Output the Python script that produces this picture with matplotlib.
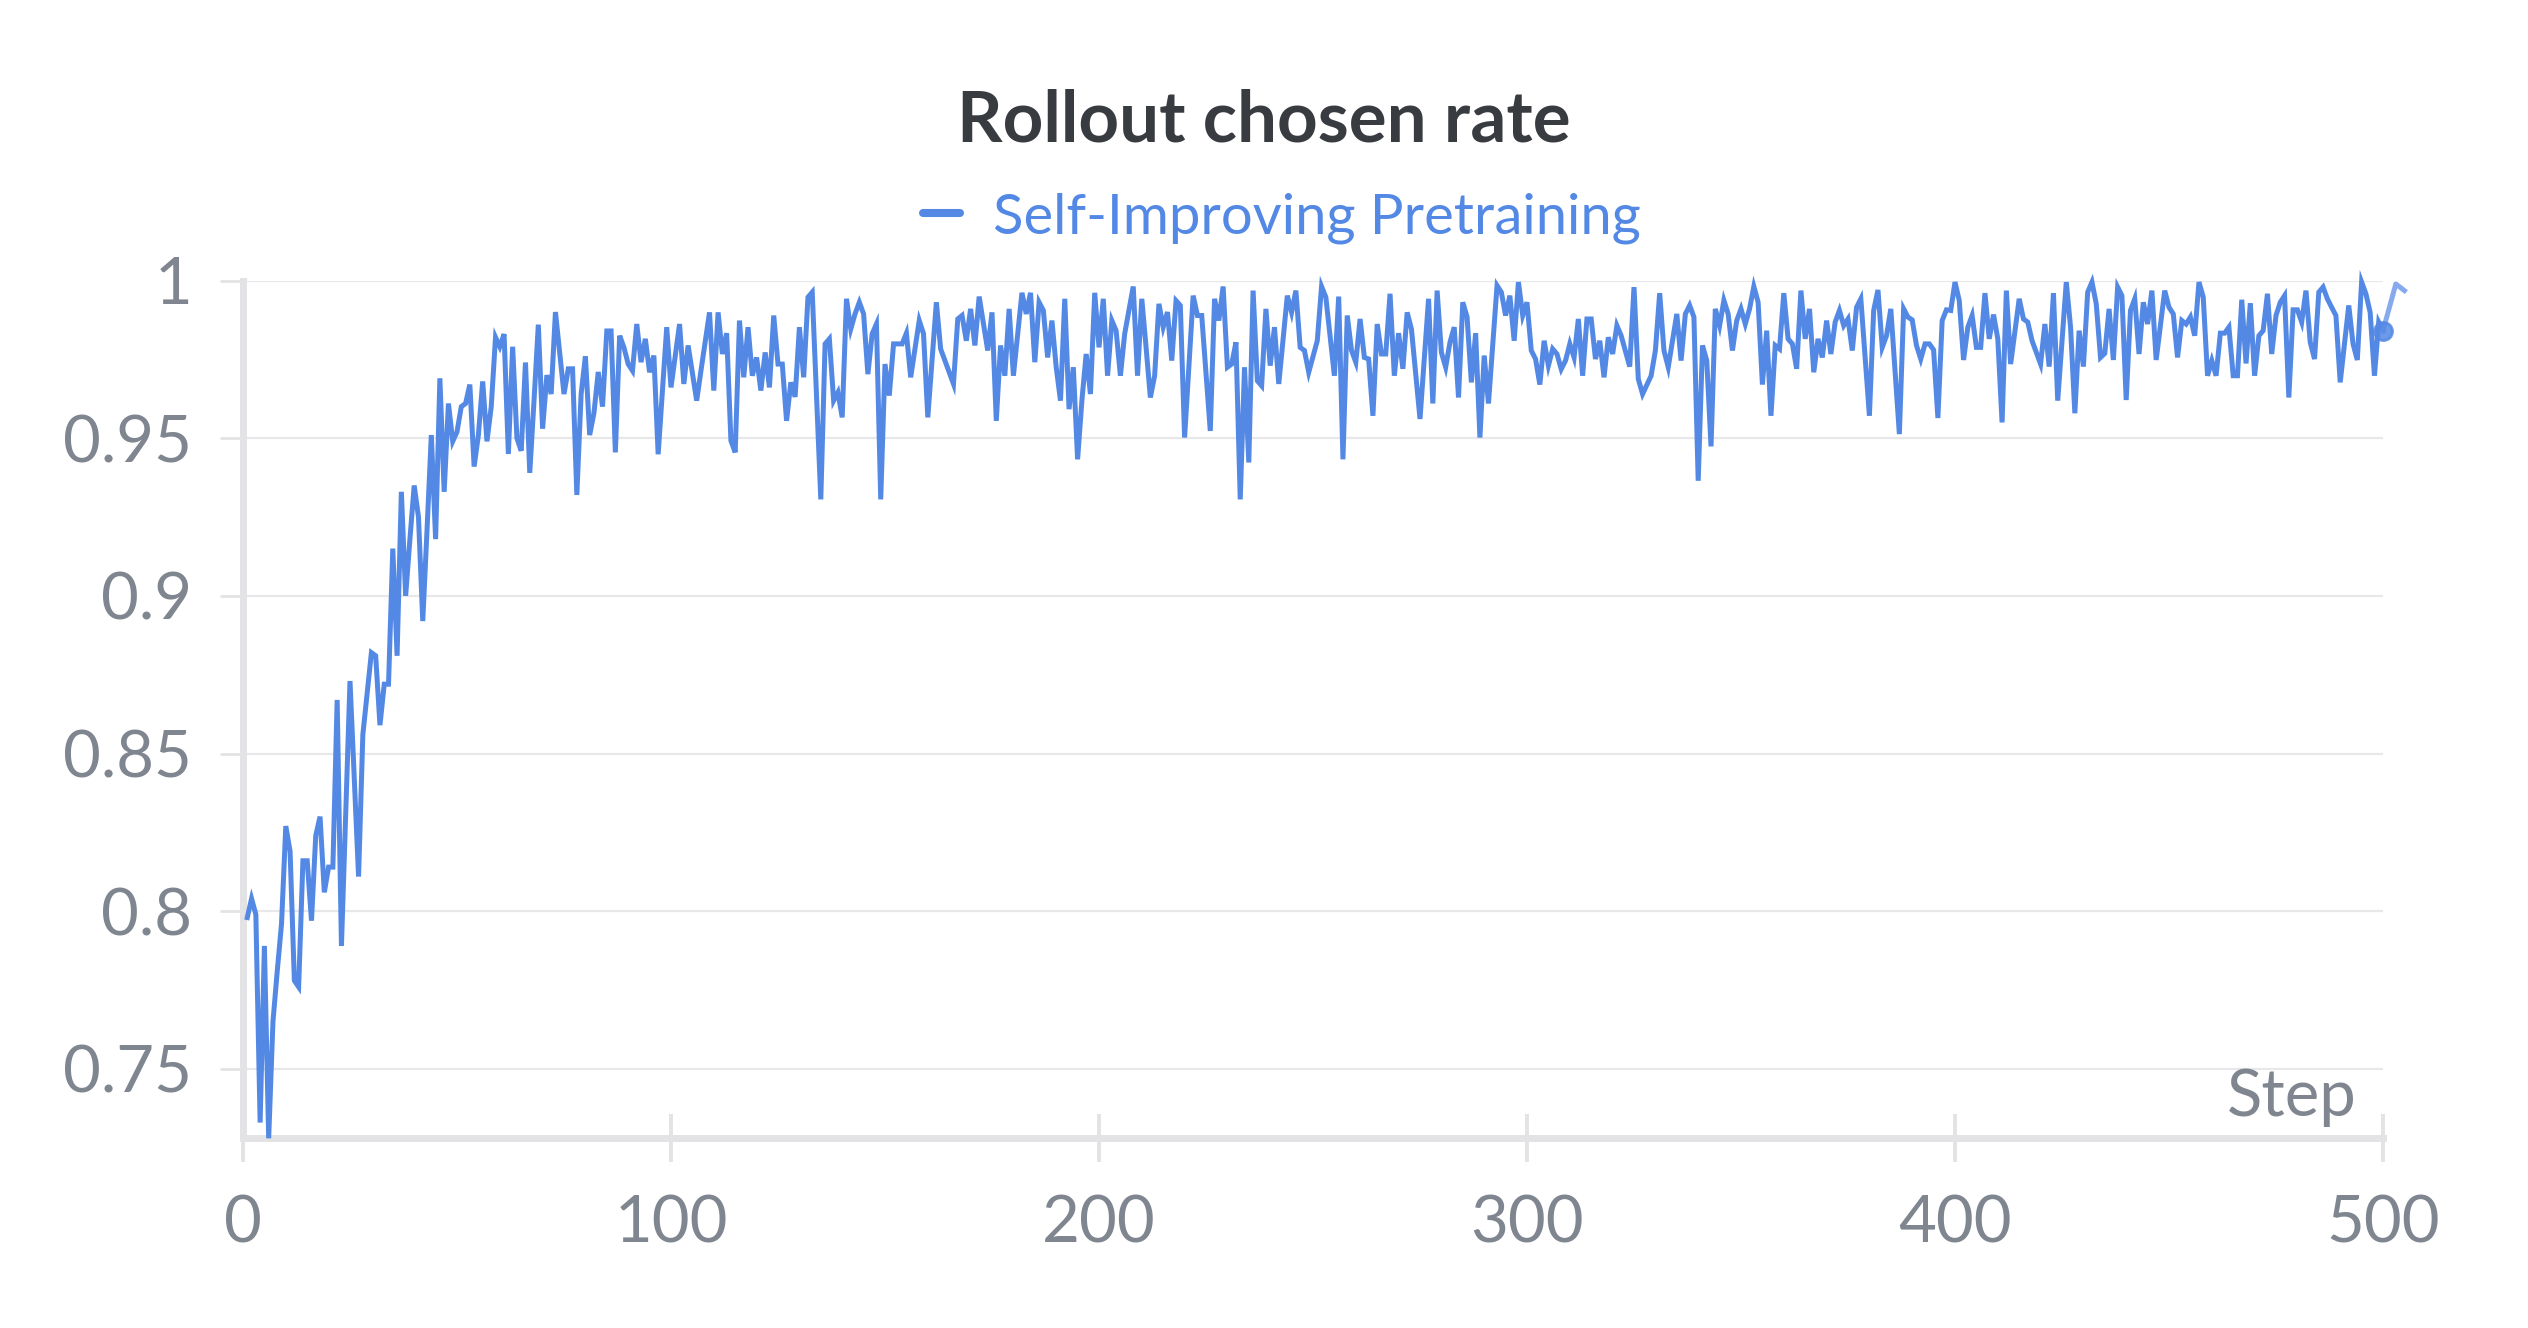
import matplotlib
matplotlib.use("Agg")
import matplotlib.pyplot as plt
from matplotlib.lines import Line2D

plt.rcParams['font.family'] = ['Lato', 'DejaVu Sans']

TITLE = "Rollout chosen rate"
SERIES = "Self-Improving Pretraining"
X_LABEL = "Step"
x_ticks = [0, 100, 200, 300, 400, 500]
x_tick_labels = ["0", "100", "200", "300", "400", "500"]
y_ticks = [0.75, 0.8, 0.85, 0.9, 0.95, 1.0]
y_tick_labels = ["0.75", "0.8", "0.85", "0.9", "0.95", "1"]

steps_early = list(range(1, 87))
rate_early = [
    0.798, 0.804, 0.799, 0.733, 0.789, 0.728, 0.765, 0.781, 0.796, 0.827,
    0.819, 0.778, 0.776, 0.816, 0.816, 0.797, 0.824, 0.830, 0.806, 0.814,
    0.814, 0.867, 0.789, 0.831, 0.873, 0.842, 0.811, 0.856, 0.869, 0.882,
    0.881, 0.859, 0.872, 0.872, 0.915, 0.881, 0.933, 0.900, 0.918, 0.935,
    0.925, 0.892, 0.921, 0.951, 0.918, 0.969, 0.933, 0.961, 0.949, 0.952,
    0.960, 0.961, 0.967, 0.941, 0.951, 0.968, 0.949, 0.960, 0.982, 0.979,
    0.983, 0.945, 0.979, 0.950, 0.946, 0.974, 0.939, 0.962, 0.986, 0.953,
    0.970, 0.964, 0.990, 0.977, 0.964, 0.972, 0.972, 0.932, 0.964, 0.976,
    0.951, 0.958, 0.971, 0.960, 0.984, 0.984,
]

steps_late = [
    87, 88, 89, 90, 91, 92, 93, 94, 95, 96,
    97, 99, 100, 102, 103, 104, 106, 107, 109, 110,
    111, 112, 113, 114, 115, 116, 117, 118, 119, 120,
    121, 122, 123, 124, 125, 126, 127, 128, 129, 130,
    131, 132, 133, 135, 136, 137, 138, 139, 140, 141,
    142, 143, 144, 145, 146, 147, 148, 149, 150, 151,
    152, 154, 155, 156, 158, 159, 160, 162, 163, 164,
    166, 167, 168, 169, 170, 171, 172, 174, 175, 176,
    177, 178, 179, 180, 182, 183, 184, 185, 186, 187,
    188, 189, 190, 191, 192, 193, 194, 195, 196, 197,
    198, 199, 200, 201, 202, 203, 204, 205, 206, 208,
    209, 210, 211, 212, 213, 214, 215, 216, 217, 218,
    219, 220, 222, 223, 224, 226, 227, 228, 229, 230,
    231, 232, 233, 234, 235, 236, 237, 238, 239, 240,
    241, 242, 244, 245, 246, 247, 248, 249, 251, 252,
    253, 255, 256, 257, 258, 259, 260, 261, 262, 263,
    264, 265, 266, 267, 268, 269, 270, 271, 272, 273,
    275, 277, 278, 279, 280, 281, 282, 283, 284, 285,
    286, 287, 288, 289, 290, 291, 293, 294, 295, 296,
    297, 298, 299, 300, 301, 302, 303, 304, 305, 306,
    307, 308, 309, 310, 311, 312, 313, 314, 315, 316,
    317, 318, 319, 320, 321, 322, 324, 325, 326, 327,
    329, 330, 331, 332, 333, 335, 336, 337, 338, 339,
    340, 341, 342, 343, 344, 345, 346, 347, 348, 349,
    350, 351, 352, 353, 354, 355, 356, 357, 358, 359,
    360, 361, 362, 363, 364, 365, 366, 367, 368, 369,
    370, 371, 372, 373, 374, 375, 376, 377, 378, 380,
    381, 382, 383, 384, 385, 387, 388, 389, 390, 391,
    392, 393, 394, 395, 396, 397, 398, 399, 400, 401,
    402, 403, 404, 405, 406, 407, 408, 409, 410, 411,
    412, 413, 415, 416, 417, 418, 419, 420, 421, 422,
    423, 424, 426, 427, 428, 429, 430, 431, 432, 433,
    434, 435, 436, 437, 438, 439, 440, 441, 442, 443,
    444, 445, 446, 447, 449, 450, 451, 452, 453, 454,
    455, 456, 457, 458, 459, 460, 461, 462, 463, 464,
    465, 466, 467, 468, 469, 470, 471, 472, 473, 474,
    475, 476, 477, 478, 479, 480, 481, 482, 483, 484,
    485, 486, 487, 488, 489, 490, 492, 493, 494, 495,
    496, 497, 498, 499, 500, 503, 505,
]
rate_late = [
    .9455, .9825, .9788, .9735, .9714, .9862, .9741, .9815, .9709, .9762,
    .9449, .9852, .9661, .9862, .9672, .9794, .9619, .9714, .9899, .9651,
    .9899, .9767, .9833, .9492, .9455, .9873, .9693, .9852, .9698, .9756,
    .9651, .9772, .9661, .9889, .9735, .9735, .9555, .9677, .9631, .9852,
    .9693, .9947, .9963, .9306, .9799, .9815, .9619, .9645, .9566, .9942,
    .9846, .9894, .9931, .9894, .9703, .9831, .9862, .9306, .9735, .9635,
    .9799, .9799, .9833, .9693, .9873, .9831, .9566, .9931, .9783, .9746,
    .9672, .9878, .9889, .9809, .9910, .9794, .9949, .9778, .9899, .9555,
    .9794, .9698, .9910, .9698, .9961, .9894, .9961, .9741, .9931, .9905,
    .9756, .9873, .9725, .9619, .9942, .9592, .9725, .9433, .9619, .9767,
    .9640, .9961, .9788, .9942, .9698, .9873, .9841, .9698, .9831, .9981,
    .9698, .9942, .9788, .9629, .9698, .9926, .9852, .9900, .9746, .9936,
    .9921, .9502, .9952, .9889, .9889, .9523, .9942, .9873, .9981, .9725,
    .9735, .9804, .9306, .9725, .9423, .9968, .9682, .9666, .9910, .9730,
    .9852, .9672, .9952, .9899, .9968, .9788, .9778, .9709, .9809, .9981,
    .9947, .9698, .9949, .9433, .9889, .9778, .9741, .9878, .9756, .9751,
    .9571, .9862, .9767, .9767, .9958, .9698, .9833, .9720, .9899, .9846,
    .9561, .9942, .9610, .9968, .9772, .9725, .9804, .9852, .9629, .9931,
    .9884, .9677, .9833, .9502, .9762, .9610, .9984, .9963, .9889, .9952,
    .9809, .9995, .9889, .9931, .9778, .9751, .9670, .9809, .9730, .9783,
    .9767, .9719, .9746, .9799, .9756, .9878, .9698, .9878, .9878, .9751,
    .9809, .9693, .9820, .9767, .9857, .9825, .9727, .9979, .9688, .9640,
    .9698, .9778, .9960, .9778, .9725, .9894, .9746, .9894, .9921, .9884,
    .9365, .9794, .9746, .9474, .9910, .9857, .9937, .9894, .9778, .9873,
    .9910, .9862, .9910, .9981, .9931, .9670, .9841, .9571, .9794, .9783,
    .9960, .9815, .9799, .9720, .9968, .9815, .9910, .9709, .9815, .9756,
    .9873, .9767, .9868, .9905, .9857, .9878, .9778, .9915, .9942, .9571,
    .9905, .9970, .9788, .9825, .9910, .9513, .9910, .9884, .9875, .9794,
    .9751, .9799, .9799, .9780, .9564, .9873, .9907, .9905, .9995, .9936,
    .9748, .9852, .9889, .9788, .9788, .9960, .9815, .9892, .9815, .9550,
    .9968, .9735, .9942, .9878, .9868, .9809, .9772, .9735, .9862, .9727,
    .9960, .9619, .9995, .9852, .9579, .9841, .9727, .9963, .9995, .9926,
    .9756, .9769, .9910, .9748, .9979, .9952, .9621, .9905, .9942, .9767,
    .9931, .9862, .9968, .9748, .9968, .9915, .9894, .9756, .9873, .9862,
    .9884, .9825, .9995, .9947, .9698, .9746, .9698, .9833, .9833, .9852,
    .9698, .9698, .9939, .9737, .9928, .9698, .9825, .9841, .9958, .9767,
    .9889, .9931, .9952, .9629, .9907, .9907, .9868, .9968, .9804, .9751,
    .9963, .9979, .9942, .9915, .9889, .9677, .9921, .9799, .9748, .9995,
    .9958, .9899, .9698, .9868, .9841, .9989, .9968,
]

steps = steps_early + steps_late
rate = rate_early + rate_late
assert len(steps) == len(rate)

LINE = '#5389e5'
LINE_LIGHT = '#86aaed'
AXIS = '#e3e3e6'
GRID = '#e8e8ea'
TICKTXT = '#80868f'
TITLECOL = '#383b40'

W, H = 2528, 1328
fig = plt.figure(figsize=(W / 200, H / 200), dpi=200)
ax = fig.add_axes([243 / W, 1 - 1138 / H, (2383 - 243) / W, (1138 - 280.5) / H])

main_x = [s for s in steps if s <= 500]
main_y = [r for s, r in zip(steps, rate) if s <= 500]
tail_x = [s for s in steps if s >= 500]
tail_y = [r for s, r in zip(steps, rate) if s >= 500]

ax.plot(main_x, main_y, color=LINE, lw=1.8, solid_joinstyle='miter', clip_on=False, zorder=3)
ax.plot(tail_x, tail_y, color=LINE_LIGHT, lw=1.8, clip_on=False, zorder=3)
ax.plot([500], [rate[steps.index(500)]], 'o', color=LINE, ms=6.5, alpha=0.85, clip_on=False, zorder=4)

ax.set_xlim(0, 500)
ax.set_ylim(0.7281, 1.0)

ax.set_xticks(x_ticks)
ax.set_xticklabels(x_tick_labels)
ax.set_yticks(y_ticks)
ax.set_yticklabels(y_tick_labels)

for sp in ['top', 'right']:
    ax.spines[sp].set_visible(False)
for sp in ['left', 'bottom']:
    ax.spines[sp].set_color(AXIS)
    ax.spines[sp].set_linewidth(2.5)

ax.yaxis.grid(True, color=GRID, lw=0.8)
ax.xaxis.grid(False)
ax.set_axisbelow(True)

ax.tick_params(axis='y', direction='out', length=8.3, width=1.0, color=AXIS,
               labelsize=23.5, labelcolor=TICKTXT, pad=10)
ax.tick_params(axis='x', direction='inout', length=17, width=1.4, color=AXIS,
               labelsize=23.5, labelcolor=TICKTXT, pad=12)

ax.text(493.9, 0.7351, X_LABEL, ha='right', va='baseline', fontsize=23.5, color=TICKTXT)

fig.text(1264 / W, 1 - 142 / H, TITLE, ha='center', va='baseline', fontsize=25.5,
         fontweight='bold', color=TITLECOL)

fig.add_artist(Line2D([923 / W, 960 / W], [1 - 213 / H, 1 - 213 / H], color=LINE, lw=2.9,
                      solid_capstyle='round', transform=fig.transFigure))
fig.text(993 / W, 1 - 234 / H, SERIES, ha='left', va='baseline', fontsize=20.2, color=LINE)

fig.savefig('out.png', dpi=200, facecolor='white')
